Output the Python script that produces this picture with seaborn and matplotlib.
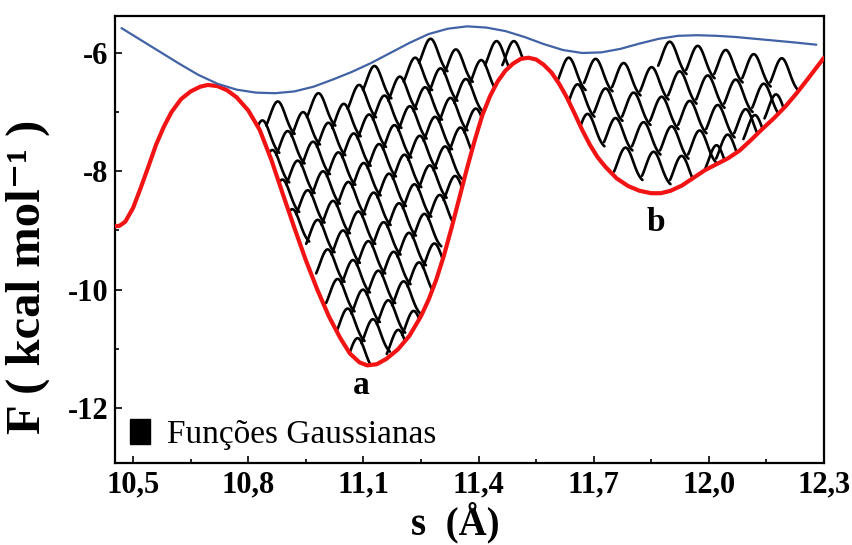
import numpy as np
import pandas as pd
import matplotlib
matplotlib.use("Agg")
import matplotlib.pyplot as plt
import seaborn as sns
from matplotlib.patches import Patch
from matplotlib.ticker import FixedLocator, FixedFormatter

# ---------------- data ----------------
# free-energy profile (red)
red_s = [10.453, 10.465, 10.48, 10.50, 10.52, 10.54, 10.56, 10.58, 10.60, 10.625,
         10.65, 10.675, 10.695, 10.72, 10.745, 10.77, 10.80, 10.83, 10.86, 10.89,
         10.92, 10.95, 10.98, 11.01, 11.04, 11.065, 11.09, 11.11, 11.135, 11.16,
         11.19, 11.22, 11.25, 11.27, 11.29, 11.31, 11.33, 11.35, 11.37, 11.39,
         11.41, 11.43, 11.45, 11.47, 11.49, 11.51, 11.53, 11.55, 11.57, 11.59,
         11.61, 11.63, 11.65, 11.67, 11.69, 11.71, 11.73, 11.76, 11.79, 11.82,
         11.85, 11.875, 11.90, 11.93, 11.96, 11.99, 12.02, 12.05, 12.08, 12.11,
         12.14, 12.17, 12.20, 12.23, 12.26, 12.28, 12.30]
red_F = [-8.93, -8.92, -8.85, -8.62, -8.28, -7.92, -7.55, -7.25, -7.00, -6.78,
         -6.65, -6.57, -6.54, -6.56, -6.63, -6.75, -6.97, -7.30, -7.80, -8.38,
         -8.95, -9.50, -10.00, -10.45, -10.82, -11.08, -11.23, -11.28, -11.26, -11.17,
         -11.01, -10.78, -10.45, -10.17, -9.83, -9.42, -8.95, -8.45, -7.95, -7.48,
         -7.05, -6.73, -6.48, -6.30, -6.18, -6.10, -6.08, -6.11, -6.20, -6.33,
         -6.52, -6.75, -7.02, -7.30, -7.55, -7.76, -7.92, -8.12, -8.25, -8.33,
         -8.37, -8.37, -8.33, -8.24, -8.11, -7.98, -7.88, -7.78, -7.65, -7.47,
         -7.28, -7.10, -6.90, -6.67, -6.42, -6.25, -6.08]

# upper envelope (blue)
blue_s = [10.47, 10.52, 10.57, 10.62, 10.67, 10.72, 10.77, 10.82, 10.87, 10.92,
          10.97, 11.02, 11.07, 11.12, 11.17, 11.22, 11.27, 11.32, 11.37, 11.42,
          11.47, 11.52, 11.57, 11.62, 11.67, 11.72, 11.77, 11.82, 11.87, 11.92,
          11.97, 12.02, 12.07, 12.12, 12.17, 12.22, 12.28]
blue_F = [-5.58, -5.78, -5.98, -6.18, -6.37, -6.52, -6.62, -6.67, -6.68, -6.65,
          -6.57, -6.45, -6.32, -6.17, -6.00, -5.83, -5.68, -5.59, -5.55, -5.57,
          -5.63, -5.73, -5.85, -5.95, -6.00, -5.99, -5.93, -5.84, -5.76, -5.71,
          -5.70, -5.71, -5.73, -5.76, -5.79, -5.82, -5.86]

# peaks of the deposited Gaussian functions (position s, height F)
gauss_s = [10.837, 10.877,
           10.863, 10.903, 10.943, 10.983,
           10.889, 10.929, 10.969, 11.009, 11.049, 11.089, 11.129,
           10.915, 10.955, 10.995, 11.035, 11.075, 11.115, 11.155, 11.195, 11.235, 11.275,
           10.981, 11.021, 11.061, 11.101, 11.141, 11.181, 11.221, 11.261, 11.301, 11.341,
           11.007, 11.047, 11.087, 11.127, 11.167, 11.207, 11.247, 11.287, 11.327, 11.367, 11.407, 11.447,
           11.033, 11.073, 11.113, 11.153, 11.193, 11.233, 11.273, 11.313, 11.353, 11.393,
           11.059, 11.099, 11.139, 11.179, 11.219, 11.259, 11.299, 11.339,
           11.085, 11.125, 11.165, 11.205, 11.245, 11.285,
           11.191, 11.231, 11.492,
           11.898, 11.971, 12.044, 12.117, 12.190,
           11.635, 11.705, 11.778, 11.851, 11.924, 11.997, 12.070, 12.143,
           11.658, 11.731, 11.804, 11.877, 11.950, 12.023, 12.096,
           11.684, 11.757, 11.830, 11.903, 11.976, 12.049,
           11.783, 11.856, 11.929,
           12.020, 12.120, 12.175]
gauss_F = [-7.14, -6.82,
           -7.64, -7.32, -7.00, -6.68,
           -8.14, -7.82, -7.50, -7.18, -6.86, -6.54, -6.22,
           -8.64, -8.32, -8.00, -7.68, -7.36, -7.04, -6.72, -6.40, -6.08, -5.76,
           -8.82, -8.50, -8.18, -7.86, -7.54, -7.22, -6.90, -6.58, -6.26, -5.94,
           -9.32, -9.00, -8.68, -8.36, -8.04, -7.72, -7.40, -7.08, -6.76, -6.44, -6.12, -5.80,
           -9.82, -9.50, -9.18, -8.86, -8.54, -8.22, -7.90, -7.58, -7.26, -6.94,
           -10.32, -10.00, -9.68, -9.36, -9.04, -8.72, -8.40, -8.08,
           -10.82, -10.50, -10.18, -9.86, -9.54, -9.22,
           -10.68, -10.36, -5.80,
           -5.81, -5.88, -5.95, -6.02, -6.09,
           -6.08, -6.10, -6.17, -6.24, -6.31, -6.38, -6.45, -6.52,
           -6.53, -6.60, -6.67, -6.74, -6.81, -6.88, -6.95,
           -7.03, -7.10, -7.17, -7.24, -7.31, -7.38,
           -7.60, -7.67, -7.74,
           -7.56, -7.05, -6.70]

xtick_values = [10.5, 10.8, 11.1, 11.4, 11.7, 12.0, 12.3]
xtick_labels = ["10,5", "10,8", "11,1", "11,4", "11,7", "12,0", "12,3"]
xminor_values = [10.65, 10.95, 11.25, 11.55, 11.85, 12.15]
ytick_values = [-6, -8, -10, -12]
ytick_labels = ["-6", "-8", "-10", "-12"]
yminor_values = [-7, -9, -11]

legend_label = "Funções Gaussianas"
minima_labels = ["a", "b"]
minima_s = [11.095, 11.861]
minima_F = [-11.62, -8.87]

# ---------------- style ----------------
sns.set_theme(style="ticks")
plt.rcParams["font.family"] = ["Liberation Serif", "DejaVu Serif"]
plt.rcParams["text.color"] = "black"

fig = plt.figure(figsize=(8.52, 5.45), dpi=100)
fig.patch.set_facecolor("white")
ax = fig.add_axes([115 / 852, 82 / 545, 709 / 852, 447 / 545])
ax.set_facecolor("white")

# ---------------- Gaussian arcs ----------------
amp, sig = 0.60, 0.020
rows = []
for k, (s0, F0) in enumerate(zip(gauss_s, gauss_F)):
    ds = np.linspace(-0.030, 0.044, 70)
    s = s0 + ds
    F = F0 - amp * (1.0 - np.exp(-ds ** 2 / (2 * sig ** 2)))
    lower = np.interp(s, red_s, red_F)
    upper = np.interp(s, blue_s, blue_F)
    keep = (F >= lower) & (F <= upper + 0.02)
    ipk = int(np.argmin(np.abs(ds)))
    if not keep[ipk]:
        continue
    lo = ipk
    while lo > 0 and keep[lo - 1]:
        lo -= 1
    hi = ipk
    while hi < len(s) - 1 and keep[hi + 1]:
        hi += 1
    for sv, fv in zip(s[lo:hi + 1], F[lo:hi + 1]):
        rows.append((k, sv, fv))
arcs = pd.DataFrame(rows, columns=["arc", "s", "F"])
sns.lineplot(data=arcs, x="s", y="F", units="arc", estimator=None, sort=False,
             color="black", lw=1.9, ax=ax, zorder=2)

# ---------------- curves ----------------
sns.lineplot(x=red_s, y=red_F, sort=False, color="#f21414", lw=3.0, ax=ax, zorder=3)
sns.lineplot(x=blue_s, y=blue_F, sort=False, color="#4262a6", lw=1.6, ax=ax, zorder=3)

# ---------------- axes ----------------
ax.set_xlim(10.453, 12.3)
ax.set_ylim(-12.93, -5.375)
ax.xaxis.set_major_locator(FixedLocator(xtick_values))
ax.xaxis.set_major_formatter(FixedFormatter(xtick_labels))
ax.xaxis.set_minor_locator(FixedLocator(xminor_values))
ax.yaxis.set_major_locator(FixedLocator(ytick_values))
ax.yaxis.set_major_formatter(FixedFormatter(ytick_labels))
ax.yaxis.set_minor_locator(FixedLocator(yminor_values))
ax.tick_params(which="both", direction="in", top=False, right=False, width=1.2, color="black")
ax.tick_params(which="major", length=5, labelsize=22, pad=5)
ax.tick_params(which="minor", length=3)
for lab in ax.get_xticklabels() + ax.get_yticklabels():
    lab.set_fontweight("bold")
    lab.set_color("black")
for sp in ax.spines.values():
    sp.set_visible(True)
    sp.set_linewidth(1.6)
    sp.set_color("black")

ax.set_xlabel("s  (Å)", fontsize=28, fontweight="bold", color="black")
ax.set_ylabel("F ( kcal mol⁻¹ )", fontsize=35, fontweight="bold", color="black")
ax.xaxis.set_label_coords(0.48, -0.087)
ax.yaxis.set_label_coords(-0.092, 0.416)

for lab, sx, fy in zip(minima_labels, minima_s, minima_F):
    ax.text(sx, fy, lab, fontsize=24, fontweight="bold", ha="center", va="center", color="black")

handle = Patch(facecolor="black", edgecolor="black", label=legend_label)
leg = ax.legend(handles=[handle], loc="lower left", frameon=False, fontsize=24,
                handlelength=0.6, handleheight=0.8, handletextpad=0.5,
                borderpad=0.0, borderaxespad=0.0,
                bbox_to_anchor=((130 - 115) / 709, (463 - 450) / 447))
for t in leg.get_texts():
    t.set_color("black")

fig.savefig("out.png", dpi=100, facecolor="white")
